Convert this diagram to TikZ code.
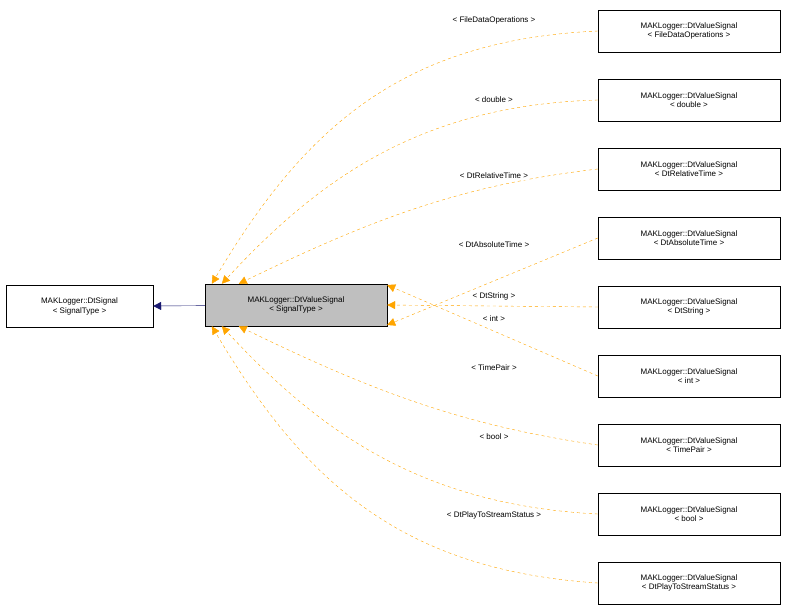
\documentclass[tikz,border=0pt]{standalone}
\usepackage{fontspec}
\setmainfont{Liberation Sans}
\usetikzlibrary{arrows.meta}
\definecolor{edgeorange}{HTML}{FFA500}
\definecolor{edgeblue}{HTML}{191970}
\begin{document}
\begin{tikzpicture}[x=1pt,y=-1pt,
            font=\fontsize{8}{9.5}\selectfont,
            cls/.style = {draw,fill=white,minimum width=182pt,minimum height=42pt,
                align=center,inner sep=1pt},
            tmpl/.style = {edgeorange,dashed,-{Triangle[length=8pt,width=8pt]}},
            lbl/.style = {fill=white,inner sep=1pt}]
    \useasboundingbox (0,0) rectangle (787,611);
    \node[cls,minimum width=147pt] (base) at (79.5,306.5) {MAKLogger::DtSignal\\< SignalType >};
    \node[cls,fill={rgb,255:red,191;green,191;blue,191}] (val) at (296,305) {MAKLogger::DtValueSignal\\< SignalType >};
    \draw[edgeblue,-{Triangle[length=8pt,width=8pt]}] (val) -- (base);
    \foreach \name/\txt [count=\i] in {fdo/FileDataOperations, dbl/double, rel/DtRelativeTime,
            abs/DtAbsoluteTime, str/DtString, int/int, tp/TimePair, bl/bool, pts/DtPlayToStreamStatus}
        \node[cls] (\name) at (689,{31+69*(\i-1)}) {MAKLogger::DtValueSignal\\< \txt\ >};
    % instantiations
    \draw[tmpl] (fdo.west) .. controls (400,40) and (303,130) .. ([xshift=7pt]val.north west);
    \draw[tmpl] (dbl.west) .. controls (420,105) and (318,180) .. ([xshift=17pt]val.north west);
    \draw[tmpl] (rel.west) .. controls (460,185) and (370,220) .. ([xshift=34pt]val.north west);
    \draw[tmpl] (abs.west) -- ([yshift=-20pt]val.east);
    \draw[tmpl] (str.west) -- (val.east);
    \draw[tmpl] (int.west) -- ([yshift=20pt]val.east);
    \draw[tmpl] (tp.west) .. controls (460,425) and (370,390) .. ([xshift=34pt]val.south west);
    \draw[tmpl] (bl.west) .. controls (420,505) and (318,430) .. ([xshift=17pt]val.south west);
    \draw[tmpl] (pts.west) .. controls (400,570) and (303,480) .. ([xshift=7pt]val.south west);
    \node[lbl] (lfdo) at (494,20) {< FileDataOperations >};
    \node[lbl] (ldbl) at (494,100) {< double >};
    \node[lbl] (lrel) at (494,176) {< DtRelativeTime >};
    \node[lbl] (labs) at (494,245) {< DtAbsoluteTime >};
    \node[lbl] (lstr) at (494,296) {< DtString >};
    \node[lbl] (lint) at (494,319) {< int >};
    \node[lbl] (ltp) at (494,368) {< TimePair >};
    \node[lbl] (lbool) at (494,437) {< bool >};
    \node[lbl] (lpts) at (494,515) {< DtPlayToStreamStatus >};
\end{tikzpicture}
\end{document}
